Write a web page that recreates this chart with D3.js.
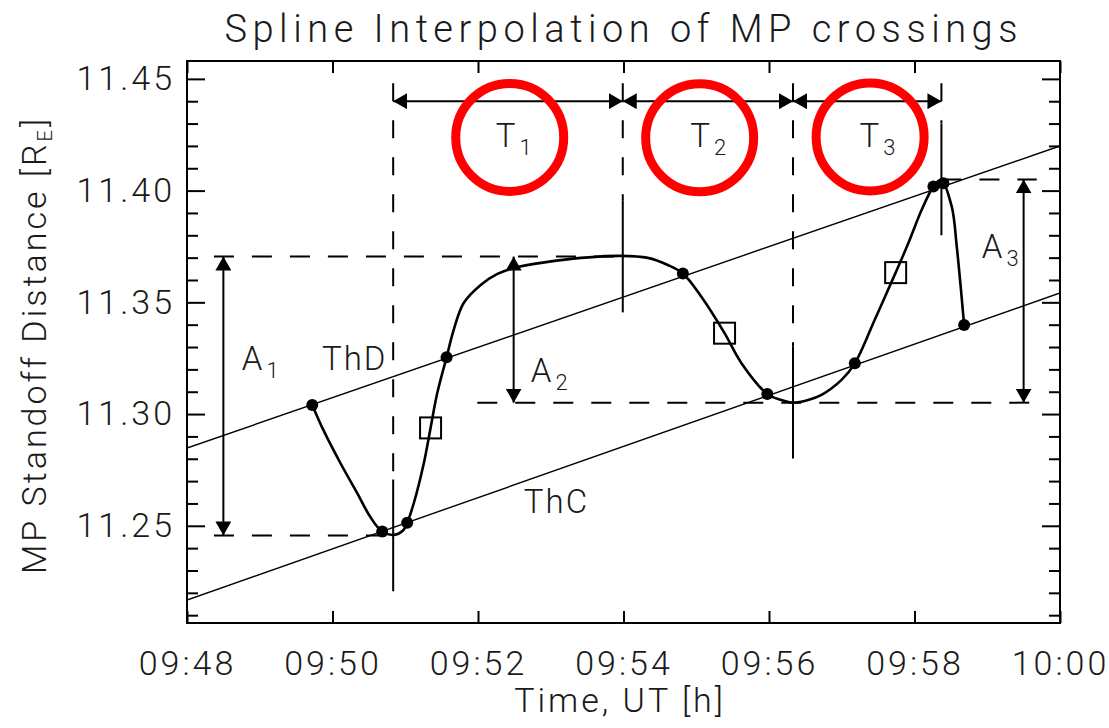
<!DOCTYPE html>
<html>
<head>
<meta charset="utf-8">
<script src="https://cdn.jsdelivr.net/npm/d3@7"></script>
<style>
  html, body { margin: 0; padding: 0; background: #fff; }
  svg text { font-family: Roboto, "Liberation Sans", sans-serif; font-weight: 300; fill: #1a1a1a; }
</style>
</head>
<body>
<div id="chart"></div>
<script>
// all times are minutes after 09:48 UT
const day = "2000-01-01T";
const startTime = "09:48";
const endTime = "10:00";

const yMajorTicks = [11.25, 11.30, 11.35, 11.40, 11.45];
const yMinorTicks = d3.range(1121, 1146).map(d => d / 100).filter(d => !yMajorTicks.includes(d));

// fitted drift lines of the two probes
const thdTimes = [0, 12];
const thdValues = [11.2848, 11.4200];
const thcTimes = [0, 12];
const thcValues = [11.2168, 11.3542];

// observed crossings (filled dots)
const crossingTimes = [1.722, 2.683, 3.027, 3.568, 6.816, 7.977, 9.180, 10.260, 10.398, 10.682];
const crossingValues = [11.3041, 11.2474, 11.2514, 11.3254, 11.3629, 11.3090, 11.3227, 11.4018, 11.4033, 11.3399];

// open squares
const squareTimes = [3.348, 7.389, 9.741];
const squareValues = [11.2938, 11.3362, 11.3633];

// spline trace
const splineTimes = [1.722, 1.874, 2.108, 2.338, 2.521, 2.683, 2.842, 2.976, 3.027, 3.118, 3.256, 3.348, 3.440,
  3.568, 3.665, 3.803, 4.037, 4.267, 4.492, 4.956, 5.415, 5.966, 6.334, 6.609, 6.816, 7.068, 7.389, 7.619,
  7.977, 8.170, 8.332, 8.538, 8.722, 8.997, 9.180, 9.452, 9.741, 9.916, 10.099, 10.260, 10.365, 10.512,
  10.581, 10.682];
const splineValues = [11.3041, 11.2929, 11.2781, 11.2647, 11.2539, 11.2474, 11.2459, 11.2481, 11.2514, 11.2602,
  11.2781, 11.2938, 11.3094, 11.3254, 11.3376, 11.3497, 11.3578, 11.3627, 11.3654, 11.3681, 11.3699, 11.3708,
  11.3699, 11.3667, 11.3629, 11.3526, 11.3362, 11.3229, 11.3090, 11.3063, 11.3051, 11.3063, 11.3086, 11.3153,
  11.3227, 11.3421, 11.3633, 11.3765, 11.3914, 11.4018, 11.4048, 11.3928, 11.3749, 11.3399];

// extrema of the spline (min, max, min, max)
const extremaTimes = [2.834, 5.99, 8.33, 10.37];
const extremaValues = [11.2457, 11.3705, 11.3051, 11.4050];
const markerTopValue = 11.448;
const periodArrowValue = 11.44;

// amplitude arrows A1..A3
const ampTimes = [0.50, 4.49, 11.50];
const ampFrom = [1, 1, 3];
const ampTo = [0, 2, 2];

// dashed guide lines: [from time, to time, extremum index]
const guideFrom = [0.37, 0.37, 3.99, 10.37];
const guideTo = [5.99, 2.834, 11.68, 11.68];
const guideLevel = [1, 0, 2, 3];

// text labels
const labelNames = ["A", "ThD", "A", "A", "ThC", "T", "T", "T"];
const labelSubs = ["1", "", "2", "3", "", "1", "2", "3"];
const labelTimes = [0.754, 1.856, 4.726, 10.926, 4.63, 4.244, 6.917, 9.245];
const labelValues = [11.3197, 11.3197, 11.3144, 11.3699, 11.2557, 11.4196, 11.4196, 11.4196];

// red highlight circles
const ringTimes = [4.436, 7.047, 9.390];
const ringValues = [11.4238, 11.4236, 11.4240];

const W = 1109, H = 728;
const margin = { top: 61, right: 49, bottom: 105, left: 187 };
const toDate = m => new Date(new Date(day + startTime + ":00").getTime() + m * 60000);

const x = d3.scaleTime()
  .domain([new Date(day + startTime + ":00"), new Date(day + endTime + ":00")])
  .range([margin.left, W - margin.right]);
const y = d3.scaleLinear()
  .domain([11.2065, 11.458])
  .range([H - margin.bottom, margin.top]);
const xm = m => x(toDate(m));

const svg = d3.select("#chart").append("svg")
  .attr("width", W).attr("height", H);

const defs = svg.append("defs");
defs.append("clipPath").attr("id", "plot")
  .append("rect")
  .attr("x", margin.left).attr("y", margin.top)
  .attr("width", W - margin.left - margin.right)
  .attr("height", H - margin.top - margin.bottom);
defs.append("marker")
  .attr("id", "head")
  .attr("markerUnits", "userSpaceOnUse")
  .attr("viewBox", "0 0 14 16")
  .attr("refX", 14).attr("refY", 8)
  .attr("markerWidth", 14).attr("markerHeight", 16)
  .attr("orient", "auto-start-reverse")
  .append("path").attr("d", "M0,0L14,8L0,16Z").attr("fill", "#000");

// title
svg.append("text")
  .attr("x", 621).attr("y", 42)
  .attr("text-anchor", "middle")
  .attr("font-size", 38)
  .attr("textLength", 793).attr("lengthAdjust", "spacing")
  .text("Spline Interpolation of MP crossings");

// axes
const styleAxis = g => {
  g.select(".domain").remove();
  g.selectAll(".tick line").attr("stroke", "#000").attr("stroke-width", 2);
  g.selectAll(".tick text").attr("font-size", 34).attr("letter-spacing", 3).attr("fill", "#1a1a1a");
};
svg.append("g").attr("transform", `translate(${margin.left},0)`)
  .call(d3.axisLeft(y).tickValues(yMajorTicks).tickSize(-18).tickPadding(12).tickFormat(d3.format(".2f")))
  .call(styleAxis)
  .attr("font-family", null);
svg.append("g").attr("transform", `translate(${margin.left},0)`)
  .call(d3.axisLeft(y).tickValues(yMinorTicks).tickSize(-11).tickFormat(""))
  .call(styleAxis);
svg.append("g").attr("transform", `translate(${W - margin.right},0)`)
  .call(d3.axisRight(y).tickValues(yMajorTicks).tickSize(-18).tickFormat(""))
  .call(styleAxis);
svg.append("g").attr("transform", `translate(${W - margin.right},0)`)
  .call(d3.axisRight(y).tickValues(yMinorTicks).tickSize(-11).tickFormat(""))
  .call(styleAxis);
svg.append("g").attr("transform", `translate(0,${H - margin.bottom})`)
  .call(d3.axisBottom(x).ticks(d3.timeMinute.every(2)).tickSize(-12).tickPadding(28)
    .tickFormat(d3.timeFormat("%H:%M")))
  .call(styleAxis)
  .attr("font-family", null);
svg.append("g").attr("transform", `translate(0,${margin.top})`)
  .call(d3.axisTop(x).ticks(d3.timeMinute.every(2)).tickSize(-12).tickFormat(""))
  .call(styleAxis);
svg.selectAll("g").attr("font-family", null);

svg.append("rect")
  .attr("x", margin.left).attr("y", margin.top)
  .attr("width", W - margin.left - margin.right)
  .attr("height", H - margin.top - margin.bottom)
  .attr("fill", "none").attr("stroke", "#000").attr("stroke-width", 2);

// axis titles
svg.append("text")
  .attr("x", 620).attr("y", 712)
  .attr("text-anchor", "middle").attr("font-size", 34).attr("letter-spacing", 3)
  .text("Time, UT [h]");
const yTitle = svg.append("text")
  .attr("transform", "translate(46,345) rotate(-90)")
  .attr("text-anchor", "middle").attr("font-size", 34).attr("letter-spacing", 3);
yTitle.append("tspan").text("MP Standoff Distance [R");
yTitle.append("tspan").attr("font-size", 20).attr("dy", 6).text("E");
yTitle.append("tspan").attr("dy", -6).text("]");

const plot = svg.append("g").attr("clip-path", "url(#plot)");

// probe lines
const straight = d3.line().x(d => xm(d[0])).y(d => y(d[1]));
[[thdTimes, thdValues], [thcTimes, thcValues]].forEach(([ts, vs]) => {
  plot.append("path")
    .attr("d", straight(ts.map((t, i) => [t, vs[i]])))
    .attr("fill", "none").attr("stroke", "#000").attr("stroke-width", 1.4);
});

// dashed guides
guideFrom.forEach((t0, i) => {
  const v = extremaValues[guideLevel[i]];
  plot.append("line")
    .attr("x1", xm(t0)).attr("x2", xm(guideTo[i]))
    .attr("y1", y(v)).attr("y2", y(v))
    .attr("stroke", "#000").attr("stroke-width", 2).attr("stroke-dasharray", "20,18");
});

// crossing time markers: dashed up to the period arrows, solid around the extremum
extremaTimes.forEach((t, i) => {
  const v = extremaValues[i];
  plot.append("line")
    .attr("x1", xm(t)).attr("x2", xm(t))
    .attr("y1", y(markerTopValue)).attr("y2", y(v + 0.025))
    .attr("stroke", "#000").attr("stroke-width", 2).attr("stroke-dasharray", "18,19");
  plot.append("line")
    .attr("x1", xm(t)).attr("x2", xm(t))
    .attr("y1", y(v + 0.025)).attr("y2", y(v - 0.025))
    .attr("stroke", "#000").attr("stroke-width", 2);
});

// period arrows T1..T3
d3.pairs(extremaTimes).forEach(([a, b]) => {
  plot.append("line")
    .attr("x1", xm(a)).attr("x2", xm(b))
    .attr("y1", y(periodArrowValue)).attr("y2", y(periodArrowValue))
    .attr("stroke", "#000").attr("stroke-width", 2)
    .attr("marker-start", "url(#head)").attr("marker-end", "url(#head)");
});

// amplitude arrows A1..A3
ampTimes.forEach((t, i) => {
  plot.append("line")
    .attr("x1", xm(t)).attr("x2", xm(t))
    .attr("y1", y(extremaValues[ampFrom[i]])).attr("y2", y(extremaValues[ampTo[i]]))
    .attr("stroke", "#000").attr("stroke-width", 2)
    .attr("marker-start", "url(#head)").attr("marker-end", "url(#head)");
});

// spline
const spline = d3.line()
  .x(d => xm(d[0])).y(d => y(d[1]))
  .curve(d3.curveCatmullRom.alpha(0.5));
plot.append("path")
  .attr("d", spline(splineTimes.map((t, i) => [t, splineValues[i]])))
  .attr("fill", "none").attr("stroke", "#000").attr("stroke-width", 2.6);

// dots and squares
plot.selectAll("circle.dot")
  .data(crossingTimes.map((t, i) => [t, crossingValues[i]]))
  .join("circle").attr("class", "dot")
  .attr("cx", d => xm(d[0])).attr("cy", d => y(d[1])).attr("r", 6).attr("fill", "#000");
plot.selectAll("rect.sq")
  .data(squareTimes.map((t, i) => [t, squareValues[i]]))
  .join("rect").attr("class", "sq")
  .attr("x", d => xm(d[0]) - 10.5).attr("y", d => y(d[1]) - 10.5)
  .attr("width", 21).attr("height", 21)
  .attr("fill", "none").attr("stroke", "#000").attr("stroke-width", 2);

// labels
labelNames.forEach((name, i) => {
  const t = svg.append("text")
    .attr("x", xm(labelTimes[i])).attr("y", y(labelValues[i]))
    .attr("font-size", 33).attr("letter-spacing", 2);
  t.append("tspan").text(name);
  if (labelSubs[i]) t.append("tspan").attr("font-size", 22).attr("dy", 8).attr("dx", 2).text(labelSubs[i]);
});

// red rings
ringTimes.forEach((t, i) => {
  svg.append("circle")
    .attr("cx", xm(t)).attr("cy", y(ringValues[i])).attr("r", 54)
    .attr("fill", "none").attr("stroke", "#ff0000").attr("stroke-width", 9);
});
</script>
</body>
</html>
